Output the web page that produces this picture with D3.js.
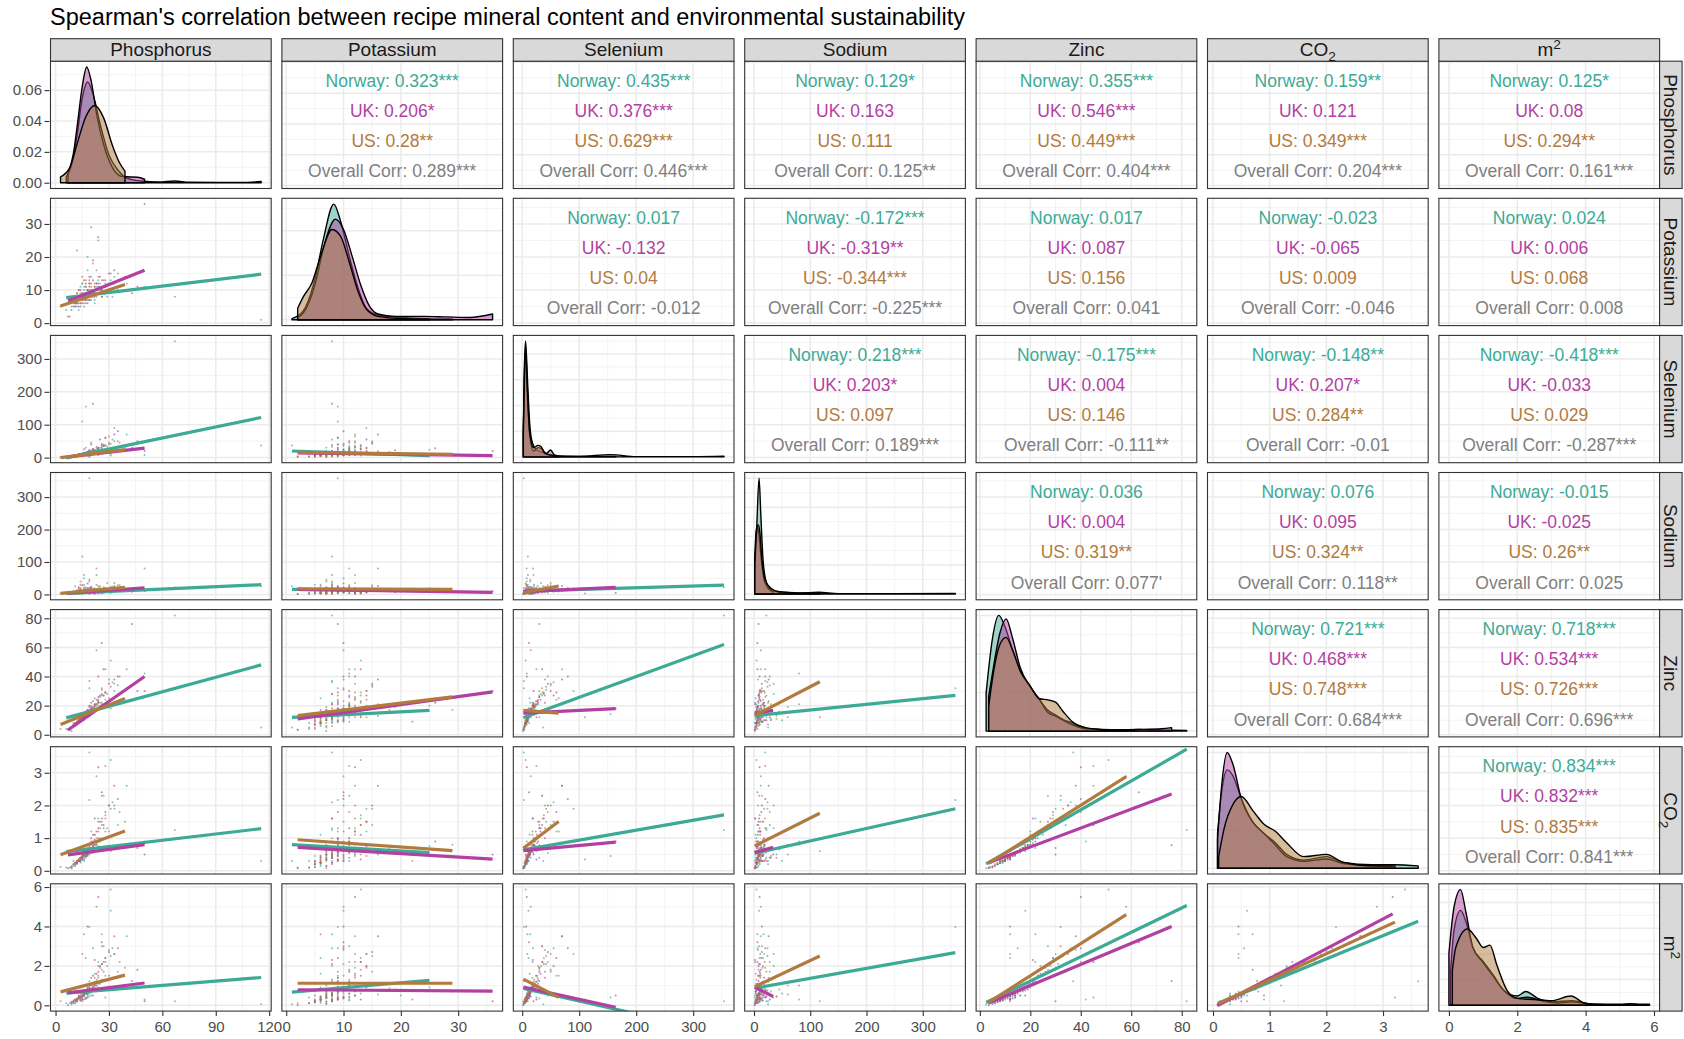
<!DOCTYPE html>
<html>
<head>
<meta charset="utf-8">
<script src="https://cdn.jsdelivr.net/npm/d3@7"></script>
<style>
  body { margin: 0; background: #fff; }
  svg { display: block; font-family: "Liberation Sans", Arial, sans-serif; }
</style>
</head>
<body>
<svg id="chart" width="1684" height="1039"></svg>
<script>

var title = "Spearman's correlation between recipe mineral content and environmental sustainability";

var vars = ['Phosphorus', 'Potassium', 'Selenium', 'Sodium', 'Zinc', 'CO2', 'm2'];
var countries = ['Norway', 'UK', 'US'];
var countryColors = ['#3DAA96', '#B23FA2', '#B27A3E'];
var overallColor = '#7F7F7F';

var varBreaks = [
  [0, 30, 60, 90, 120],
  [0, 10, 20, 30],
  [0, 100, 200, 300],
  [0, 100, 200, 300],
  [0, 20, 40, 60, 80],
  [0, 1, 2, 3],
  [0, 2, 4, 6]
];

// recipe rows: [Phosphorus, Potassium, Selenium, Sodium, Zinc, CO2, m2]
var norwayRecipes = [
  [115.5, 1, 37, 25, 5, 0.3, 0.05], [67, 8, 354, 22, 82, 1.25, 0.2], [19, 9, 3, 358, 32, 2.17, 3.97],
  [31, 13, 6, 4.5, 51, 3.39, 5.87], [19, 8, 3, 20, 37, 3.62, 1.22], [12, 6, 5, 4, 8, 0.25, 0.3],
  [15, 7, 9, 7, 10, 0.35, 0.4], [18, 8, 12, 9, 14, 0.5, 0.6], [22, 9, 15, 12, 18, 0.7, 0.9],
  [9, 5, 4, 3, 5, 0.12, 0.15], [25, 10, 22, 6, 20, 0.9, 1.1], [14, 11, 7, 15, 9, 0.3, 0.25],
  [17, 7, 30, 8, 12, 0.4, 0.35], [20, 12, 45, 5, 16, 0.55, 0.5], [28, 9, 60, 10, 24, 1.2, 1.5],
  [11, 6, 8, 25, 7, 0.2, 0.2], [16, 5, 10, 30, 11, 0.45, 0.7], [24, 13, 18, 2, 22, 1.6, 2.2],
  [13, 8, 6, 11, 10, 0.3, 0.3], [21, 10, 25, 14, 15, 0.6, 0.8], [33, 14, 90, 18, 30, 1.9, 2.6],
  [6, 4, 3, 6, 4, 0.1, 0.1], [19, 7, 14, 40, 13, 0.5, 0.45], [27, 11, 35, 9, 27, 2.3, 3.0],
  [15, 9, 110, 3, 12, 0.35, 0.3], [23, 12, 20, 60, 19, 0.8, 1.0], [10, 6, 5, 8, 6, 0.15, 0.12],
  [18, 16, 11, 13, 13, 0.5, 0.55], [30, 10, 40, 7, 38, 2.0, 2.8], [14, 8, 9, 5, 9, 0.25, 0.35],
  [20, 7, 16, 21, 17, 0.65, 0.75], [26, 11, 28, 4, 21, 1.0, 1.3], [12, 5, 7, 10, 7, 0.2, 0.18],
  [17, 9, 155, 16, 14, 0.45, 0.4], [35, 15, 50, 28, 34, 1.4, 1.7], [22, 6, 13, 3, 25, 1.1, 1.6],
  [16, 10, 8, 50, 10, 0.3, 0.6], [40, 12, 70, 12, 45, 2.6, 3.5], [9, 7, 2, 2, 2.5, 0.08, 0.05],
  [24, 25, 24, 19, 20, 0.75, 0.9], [13, 4, 12, 1.3, 8, 0.3, 0.4], [29, 8, 33, 35, 28, 1.3, 2.0],
  [18, 20, 10, 9, 16, 0.6, 0.5], [50, 11, 8, 80, 42, 0.9, 0.3], [21, 9, 19, 6, 15, 0.55, 2.9],
  [31, 10, 11, 9, 18, 0.6, 4.8], [26, 8, 14, 17, 22, 0.7, 3.6],
  [14, 7, 11, 6, 11, 0.4, 0.5], [16, 8, 13, 9, 12, 0.45, 0.55], [19, 9, 17, 11, 15, 0.6, 0.7],
  [21, 10, 21, 13, 18, 0.75, 0.95], [23, 11, 26, 15, 21, 0.85, 1.2], [12, 6, 8, 5, 9, 0.25, 0.3],
  [17, 7, 12, 7, 13, 0.5, 0.6], [20, 8, 14, 10, 14, 0.55, 0.65], [15, 9, 9, 12, 10, 0.35, 0.4],
  [18, 10, 16, 8, 16, 0.65, 0.85], [25, 12, 30, 20, 26, 1.3, 1.9], [11, 5, 6, 4, 7, 0.2, 0.25],
  [13, 6, 10, 14, 9, 0.3, 0.35], [22, 7, 20, 18, 19, 0.8, 1.0], [28, 13, 38, 10, 29, 1.7, 2.4],
  [16, 11, 15, 22, 12, 0.4, 0.45], [19, 12, 23, 5, 17, 0.7, 0.8], [14, 8, 9, 3, 11, 0.4, 0.6],
  [24, 9, 27, 26, 23, 1.0, 1.4], [17, 6, 11, 16, 12, 0.45, 2.4], [20, 14, 18, 7, 20, 1.2, 1.0],
  [10, 7, 7, 9, 8, 0.3, 0.2], [26, 10, 42, 11, 31, 1.5, 2.1], [15, 12, 13, 2, 14, 0.5, 0.5],
  [32, 8, 55, 24, 36, 2.1, 2.9]
];

var ukRecipes = [
  [50, 36, 20, 10, 30, 0.5, 0.2], [21, 8, 164, 5, 18, 0.9, 0.5], [18, 10, 6, 34, 14, 0.5, 0.4],
  [43, 9, 30, 8, 76, 0.78, 1.23], [24, 12, 8, 10, 40, 3.17, 5.5], [26, 10, 12, 6, 63, 2.4, 3.2],
  [7, 2, 2, 1.3, 3.5, 0.08, 0], [12, 6, 5, 4, 8, 0.25, 0.3], [15, 8, 9, 7, 11, 0.4, 0.5],
  [17, 9, 12, 9, 13, 0.45, 0.35], [19, 7, 15, 3, 16, 0.6, 0.7], [22, 11, 20, 12, 20, 0.8, 1.0],
  [14, 5, 7, 15, 9, 0.3, 0.25], [16, 13, 25, 6, 12, 0.35, 0.3], [20, 9, 40, 18, 22, 1.0, 1.4],
  [25, 14, 55, 8, 27, 1.5, 2.0], [11, 7, 4, 2.5, 6, 0.15, 0.1], [13, 10, 10, 22, 10, 0.3, 0.45],
  [18, 6, 18, 5, 17, 0.7, 0.9], [23, 12, 32, 11, 24, 1.2, 1.6], [30, 15, 45, 14, 35, 2.0, 2.7],
  [15, 8, 8, 28, 12, 0.4, 0.3], [9, 4, 3, 4, 5, 0.1, 0.12], [17, 11, 14, 9, 14, 0.55, 0.6],
  [21, 19, 22, 7, 19, 0.75, 0.8], [28, 9, 60, 13, 29, 1.8, 2.4], [12, 8, 6, 6, 8, 0.25, 0.2],
  [16, 7, 11, 17, 13, 0.5, 0.55], [19, 12, 16, 3, 15, 0.6, 0.7], [35, 10, 80, 20, 40, 2.2, 2.9],
  [14, 6, 9, 10, 11, 0.35, 0.4], [24, 26, 28, 8, 22, 0.9, 1.1], [20, 9, 13, 24, 18, 0.65, 0.75],
  [46, 11, 50, 12, 30, 0.7, 1.8], [10, 5, 5, 5, 7, 0.2, 0.15], [27, 13, 35, 6, 45, 1.4, 2.2],
  [18, 10, 7, 14, 12, 0.45, 4.0], [22, 8, 19, 2, 21, 1.6, 2.3],
  [13, 7, 8, 5, 10, 0.35, 0.4], [16, 8, 12, 8, 13, 0.5, 0.55], [18, 9, 14, 11, 15, 0.55, 0.6],
  [20, 10, 18, 13, 18, 0.7, 0.85], [15, 6, 10, 6, 12, 0.4, 0.45], [17, 12, 16, 4, 16, 0.6, 0.75],
  [22, 9, 24, 16, 21, 0.95, 1.2], [12, 9, 6, 10, 9, 0.3, 0.3], [19, 11, 21, 19, 20, 0.8, 1.0],
  [26, 8, 38, 9, 28, 1.6, 2.1], [14, 10, 9, 12, 11, 0.4, 0.35], [18, 7, 17, 20, 17, 0.65, 0.8],
  [21, 13, 26, 7, 23, 1.1, 1.5], [11, 6, 7, 3, 8, 0.25, 0.25], [16, 9, 13, 15, 14, 0.5, 0.5],
  [24, 11, 30, 10, 26, 1.3, 1.7], [33, 16, 70, 26, 38, 2.6, 3.5], [15, 8, 11, 9, 13, 0.45, 0.6],
  [19, 14, 20, 6, 19, 0.75, 0.9], [13, 5, 8, 18, 10, 0.3, 0.5]
];

var usRecipes = [
  [23, 10, 15, 12, 58, 2.89, 5.0], [28, 11, 25, 20, 45, 3.21, 0.4], [15, 8, 10, 117, 12, 0.6, 0.2],
  [30, 12, 64, 9, 25, 1.2, 1.5], [2.8, 5, 2, 3, 4, 0.12, 0.2], [39, 14, 30, 15, 30, 1.5, 1.9],
  [20, 29, 12, 10, 17, 0.8, 0.7], [8, 2, 4, 1.3, 3.5, 0.1, 0.1], [12, 6, 6, 6, 8, 0.3, 0.35],
  [15, 7, 9, 9, 11, 0.45, 0.5], [18, 9, 12, 14, 14, 0.55, 0.65], [21, 10, 16, 18, 18, 0.75, 0.9],
  [25, 11, 20, 25, 22, 1.0, 1.2], [10, 8, 5, 5, 6, 0.2, 0.25], [14, 6, 7, 30, 10, 0.4, 0.45],
  [17, 13, 11, 8, 13, 0.5, 0.6], [19, 7, 14, 45, 16, 0.65, 0.8], [22, 12, 18, 11, 20, 1.1, 1.4],
  [27, 9, 40, 22, 27, 1.3, 1.7], [13, 10, 8, 7, 9, 0.35, 0.4], [16, 8, 10, 60, 12, 0.5, 0.55],
  [20, 11, 22, 4, 19, 0.9, 1.1], [24, 14, 28, 16, 24, 1.5, 2.0], [11, 5, 4, 10, 7, 0.25, 0.3],
  [33, 12, 50, 35, 35, 2.0, 2.6], [18, 9, 13, 12, 15, 0.6, 0.7], [9, 7, 3, 2, 5, 0.15, 0.18],
  [23, 16, 19, 80, 21, 0.8, 1.0], [16, 6, 9, 6, 12, 0.45, 3.6], [26, 10, 35, 14, 32, 2.3, 3.0],
  [14, 9, 6, 20, 10, 0.35, 0.4], [21, 18, 17, 9, 17, 0.7, 0.85], [36, 11, 45, 28, 40, 1.8, 2.2],
  [19, 8, 12, 3, 14, 0.55, 0.6], [12, 22, 7, 13, 9, 0.3, 0.3],
  [13, 7, 7, 8, 10, 0.35, 0.4], [16, 8, 10, 11, 13, 0.5, 0.55], [18, 10, 13, 15, 15, 0.6, 0.7],
  [20, 9, 15, 13, 17, 0.7, 0.8], [22, 11, 19, 17, 20, 0.9, 1.1], [15, 12, 9, 10, 12, 0.45, 0.5],
  [17, 7, 11, 21, 14, 0.55, 0.65], [24, 10, 24, 12, 23, 1.2, 1.5], [11, 6, 5, 7, 8, 0.25, 0.3],
  [19, 13, 14, 9, 16, 0.65, 0.75], [28, 12, 36, 19, 29, 1.6, 2.2], [14, 8, 8, 40, 11, 0.4, 0.45],
  [21, 9, 17, 6, 18, 0.8, 0.95], [17, 11, 12, 14, 14, 0.55, 0.6], [31, 15, 42, 24, 33, 1.9, 2.5],
  [12, 9, 6, 5, 9, 0.3, 0.3], [23, 8, 21, 30, 21, 1.0, 1.3], [15, 14, 9, 11, 12, 0.45, 2.6],
  [19, 10, 16, 16, 17, 0.7, 0.9], [26, 13, 30, 8, 27, 1.4, 1.8]
];

// lm fit values at each country's min and max x: [row, col, Norway y0, y1, UK y0, y1, US y0, y1]
var fitEnds = [
  [1, 0, 7.7, 14.8, 6.7, 16, 5.2, 11.7],
  [2, 0, -1, 122, 2, 29, 0, 24],
  [3, 0, 3, 30, 4, 20, 3, 22],
  [4, 0, 11.6, 48, 3.3, 40, 7, 25],
  [5, 0, 0.59, 1.29, 0.49, 0.8, 0.49, 1.22],
  [6, 0, 0.62, 1.41, 0.63, 1.13, 0.68, 1.53],
  [2, 1, 20, 6, 14, 6, 16, 10],
  [3, 1, 15.7, 11.4, 15.7, 6.4, 17.6, 15.7],
  [4, 1, 12, 16.7, 10.9, 29.4, 13.2, 26],
  [5, 1, 0.8, 0.56, 0.72, 0.36, 0.95, 0.62],
  [6, 1, 0.67, 1.27, 0.79, 0.72, 1.12, 1.12],
  [3, 2, 10.5, 29, 8.4, 22, 5.3, 26],
  [4, 2, 11.6, 62, 14.8, 17.9, 16.7, 14.8],
  [5, 2, 0.64, 1.71, 0.62, 0.88, 0.69, 1.51],
  [6, 2, 0.85, -1.43, 0.92, -0.1, 1.33, 0.4],
  [4, 3, 13.2, 27.1, 14.8, 16.7, 13.2, 36.4],
  [5, 3, 0.54, 1.9, 0.56, 0.72, 0.76, 1.76],
  [6, 3, 0.87, 2.67, 0.92, 0.45, 0.95, 2.5],
  [5, 4, 0.21, 3.72, 0.25, 2.35, 0.23, 2.88],
  [6, 4, 0.15, 5.06, 0.12, 4.0, 0.15, 4.6],
  [6, 5, 0.09, 4.26, -0.02, 4.64, 0.09, 4.22]
];

// [row, col, Norway, UK, US, overall]
var corrText = [
  [0, 1, '0.323***', '0.206*', '0.28**', '0.289***'],
  [0, 2, '0.435***', '0.376***', '0.629***', '0.446***'],
  [0, 3, '0.129*', '0.163', '0.111', '0.125**'],
  [0, 4, '0.355***', '0.546***', '0.449***', '0.404***'],
  [0, 5, '0.159**', '0.121', '0.349***', '0.204***'],
  [0, 6, '0.125*', '0.08', '0.294**', '0.161***'],
  [1, 2, '0.017', '-0.132', '0.04', '-0.012'],
  [1, 3, '-0.172***', '-0.319**', '-0.344***', '-0.225***'],
  [1, 4, '0.017', '0.087', '0.156', '0.041'],
  [1, 5, '-0.023', '-0.065', '0.009', '-0.046'],
  [1, 6, '0.024', '0.006', '0.068', '0.008'],
  [2, 3, '0.218***', '0.203*', '0.097', '0.189***'],
  [2, 4, '-0.175***', '0.004', '0.146', '-0.111**'],
  [2, 5, '-0.148**', '0.207*', '0.284**', '-0.01'],
  [2, 6, '-0.418***', '-0.033', '0.029', '-0.287***'],
  [3, 4, '0.036', '0.004', '0.319**', "0.077'"],
  [3, 5, '0.076', '0.095', '0.324**', '0.118**'],
  [3, 6, '-0.015', '-0.025', '0.26**', '0.025'],
  [4, 5, '0.721***', '0.468***', '0.748***', '0.684***'],
  [4, 6, '0.718***', '0.534***', '0.726***', '0.696***'],
  [5, 6, '0.834***', '0.832***', '0.835***', '0.841***']
];

// density curves, height relative to the panel's tallest curve
var densityPeak = [0.075, 0.13, 0.09, 0.08, 0.06, 1.5, 0.9];

var densNorway = [
  [[6,0.05],[9,0.15],[12,0.4],[15,0.73],[18,0.87],[21,0.77],[25,0.51],[30,0.24],[35,0.11],[40,0.04],[48,0.015],[58,0.006],[67,0.015],[75,0.004],[90,0.002],[108,0.002],[115.5,0.01]],
  [[1,0.01],[3,0.08],[5,0.35],[6.5,0.7],[8.3,1.0],[9.5,0.85],[11,0.55],[12.5,0.28],[14,0.1],[16,0.04],[20,0.02],[25,0.01]],
  [[2,0.2],[4,0.8],[6,1.0],[9,0.7],[13,0.3],[18,0.12],[25,0.06],[30,0.05],[40,0.03],[55,0.01],[100,0.005],[155,0.02],[200,0.002],[300,0.002],[354,0.006]],
  [[1.3,0.2],[5,0.6],[9,1.0],[12,0.7],[16,0.3],[22,0.1],[30,0.04],[45,0.015],[80,0.008],[115,0.015],[150,0.003],[250,0.002],[358,0.004]],
  [[2.5,0.33],[5,0.8],[7.5,1.0],[10,0.9],[13,0.7],[16,0.52],[19.7,0.39],[23.7,0.27],[27,0.18],[30,0.14],[33,0.1],[36.7,0.07],[42,0.02],[50,0.01],[63,0.015],[70,0.01],[82,0.005]],
  [[0.08,0.3],[0.15,0.65],[0.25,0.85],[0.35,0.8],[0.5,0.6],[0.7,0.4],[0.9,0.3],[1.1,0.22],[1.3,0.12],[1.6,0.07],[2.0,0.1],[2.3,0.05],[2.8,0.03],[3.2,0.03],[3.62,0.02]],
  [[0.05,0.3],[0.15,0.65],[0.34,0.82],[0.5,0.72],[0.7,0.5],[1.0,0.38],[1.3,0.26],[1.6,0.13],[2.0,0.08],[2.25,0.12],[2.6,0.06],[3.0,0.03],[3.6,0.04],[4.2,0.01],[5.0,0.01],[5.87,0.01]]
];

var densUK = [
  [[7,0.08],[10,0.25],[12,0.47],[15,0.83],[17.5,1.0],[20,0.88],[23,0.6],[27,0.33],[32,0.13],[37,0.055],[42,0.05],[46,0.047],[50,0.03]],
  [[2,0.02],[3,0.06],[5,0.3],[6.5,0.62],[8.6,0.87],[10,0.78],[11.5,0.55],[13,0.3],[14.5,0.12],[16,0.05],[19,0.03],[24,0.03],[28,0.025],[32,0.02],[36,0.05]],
  [[2,0.25],[4,0.75],[6,0.9],[9,0.55],[13,0.2],[20,0.05],[28,0.08],[34,0.07],[42,0.03],[50,0.06],[56,0.02],[70,0.003],[110,0.003],[164,0.004]],
  [[1.3,0.3],[4,0.55],[6,0.58],[9,0.5],[13,0.3],[18,0.12],[25,0.05],[34,0.02]],
  [[3.5,0.3],[5,0.5],[8,0.85],[10.4,0.97],[13,0.8],[16,0.55],[19.7,0.39],[23.7,0.27],[27,0.16],[30,0.13],[36,0.06],[42,0.02],[55,0.01],[65,0.015],[72,0.02],[76,0.03]],
  [[0.08,0.25],[0.15,0.7],[0.25,1.0],[0.35,0.9],[0.5,0.6],[0.7,0.4],[0.9,0.3],[1.1,0.2],[1.3,0.1],[1.6,0.06],[2.0,0.08],[2.3,0.04],[2.8,0.02],[3.17,0.01]],
  [[0,0.45],[0.15,0.85],[0.34,1.0],[0.5,0.8],[0.7,0.5],[1.0,0.37],[1.3,0.25],[1.6,0.13],[2.0,0.06],[2.3,0.07],[2.7,0.04],[3.2,0.02],[3.6,0.03],[4.2,0.01],[5.0,0.005],[5.3,0.015],[5.5,0.01]]
];

var densUS = [
  [[2.8,0.05],[8,0.13],[12,0.33],[17,0.57],[22,0.667],[27,0.56],[32,0.32],[36,0.17],[39,0.1]],
  [[2,0.1],[3,0.2],[4.5,0.32],[6,0.55],[8,0.78],[9.5,0.72],[11,0.5],[12.5,0.25],[14,0.09],[16,0.03],[20,0.01],[29,0.005]],
  [[2,0.2],[4,0.7],[6,0.95],[9,0.6],[13,0.22],[20,0.08],[28,0.1],[33,0.09],[40,0.03],[64,0.005]],
  [[1.3,0.25],[4,0.5],[7,0.6],[10,0.55],[14,0.3],[20,0.12],[30,0.05],[45,0.02],[80,0.01],[117,0.01]],
  [[3.5,0.21],[5,0.45],[8,0.75],[10.4,0.81],[13,0.7],[16,0.52],[19.7,0.4],[23.7,0.28],[27,0.27],[30,0.25],[33,0.17],[36.7,0.08],[42,0.03],[50,0.01],[58,0.005]],
  [[0.1,0.1],[0.2,0.35],[0.35,0.55],[0.5,0.62],[0.7,0.5],[0.9,0.38],[1.1,0.32],[1.3,0.22],[1.6,0.1],[2.0,0.12],[2.3,0.05],[2.8,0.02],[3.21,0.02]],
  [[0.1,0.3],[0.2,0.5],[0.54,0.66],[0.8,0.58],[1.0,0.5],[1.2,0.52],[1.4,0.35],[1.7,0.13],[2.0,0.06],[2.5,0.05],[3.0,0.04],[3.57,0.08],[4.0,0.015],[4.6,0.005],[5.0,0.005]]
];

// layout
var left0 = 50.5, colStep = 231.4, panelW = 220.7;
var top0 = 61.2, rowStep = 137.1, panelH = 127.3;
var stripH = 22.5;
var nVar = vars.length;

var svg = d3.select('#chart');

var recipesBy = [norwayRecipes, ukRecipes, usRecipes];
var densBy = [densNorway, densUK, densUS];
var allRecipes = norwayRecipes.concat(ukRecipes, usRecipes);

var expand = (ext) => {
  var pad = (ext[1] - ext[0]) * 0.05;
  return [ext[0] - pad, ext[1] + pad];
};

var xScales = vars.map((v, i) => d3.scaleLinear()
  .domain(expand(d3.extent(allRecipes, d => d[i]))).range([0, panelW]));
var yScales = vars.map((v, i) => d3.scaleLinear()
  .domain(expand(d3.extent(allRecipes, d => d[i]))).range([panelH, 0]));
var densScales = densityPeak.map(p => d3.scaleLinear()
  .domain([-0.05 * p, 1.05 * p]).range([panelH, 0]));

var minorOf = (breaks, domain) => {
  var step = breaks[1] - breaks[0];
  var out = [];
  for (var k = -1; k < breaks.length; k++) {
    var m = breaks[0] + step * (k + 0.5);
    if (m >= domain[0] && m <= domain[1]) out.push(m);
  }
  return out;
};

svg.append('defs').append('clipPath').attr('id', 'panelClip')
  .append('rect').attr('width', panelW).attr('height', panelH);

svg.append('text')
  .attr('x', 50).attr('y', 25)
  .attr('font-size', 23.5)
  .attr('fill', '#000')
  .text(title);

var addVarLabel = (sel, name) => {
  if (name === 'CO2') {
    sel.text('CO');
    sel.append('tspan').attr('dy', 5).attr('font-size', '0.72em').text('2');
  } else if (name === 'm2') {
    sel.text('m');
    sel.append('tspan').attr('dy', -7).attr('font-size', '0.72em').text('2');
  } else {
    sel.text(name);
  }
};

var drawGrid = (g, xs, xb, ys, yb) => {
  var xd = xs.domain(), yd = ys.domain();
  var inX = xb.filter(b => b >= xd[0] && b <= xd[1]);
  var inY = yb.filter(b => b >= yd[0] && b <= yd[1]);
  g.selectAll('line.vminor').data(minorOf(xb, xd)).enter().append('line')
    .attr('x1', d => xs(d)).attr('x2', d => xs(d)).attr('y1', 0).attr('y2', panelH)
    .attr('stroke', '#F0F0F0').attr('stroke-width', 0.8);
  g.selectAll('line.hminor').data(minorOf(yb, yd)).enter().append('line')
    .attr('y1', d => ys(d)).attr('y2', d => ys(d)).attr('x1', 0).attr('x2', panelW)
    .attr('stroke', '#F0F0F0').attr('stroke-width', 0.8);
  g.selectAll('line.vmajor').data(inX).enter().append('line')
    .attr('x1', d => xs(d)).attr('x2', d => xs(d)).attr('y1', 0).attr('y2', panelH)
    .attr('stroke', '#EBEBEB').attr('stroke-width', 1.5);
  g.selectAll('line.hmajor').data(inY).enter().append('line')
    .attr('y1', d => ys(d)).attr('y2', d => ys(d)).attr('x1', 0).attr('x2', panelW)
    .attr('stroke', '#EBEBEB').attr('stroke-width', 1.5);
};

for (var r = 0; r < nVar; r++) {
  for (var c = 0; c < nVar; c++) {
    var px = left0 + c * colStep;
    var py = top0 + r * rowStep;
    var g = svg.append('g').attr('transform', 'translate(' + px + ',' + py + ')');
    g.append('rect').attr('width', panelW).attr('height', panelH).attr('fill', '#fff');

    var xs = xScales[c];
    var inner;

    if (r === c) {
      // diagonal: densities per country
      var ds = densScales[r];
      drawGrid(g, xs, varBreaks[c], ds, ds.ticks(4));
      inner = g.append('g').attr('clip-path', 'url(#panelClip)');
      var area = d3.area()
        .x(d => xs(d[0]))
        .y0(ds(0))
        .y1(d => ds(d[1] * densityPeak[r]))
        .curve(d3.curveMonotoneX);
      densBy.forEach((dens, k) => {
        inner.append('path')
          .attr('d', area(dens[r]))
          .attr('fill', countryColors[k])
          .attr('fill-opacity', 0.5)
          .attr('stroke', '#000')
          .attr('stroke-width', 1.4)
          .attr('stroke-linejoin', 'round');
      });
    } else if (r > c) {
      // lower: scatter + lm lines
      var ys = yScales[r];
      drawGrid(g, xs, varBreaks[c], ys, varBreaks[r]);
      inner = g.append('g').attr('clip-path', 'url(#panelClip)');
      recipesBy.forEach((rows, k) => {
        inner.selectAll('circle.c' + k).data(rows).enter().append('circle')
          .attr('cx', d => xs(d[c]))
          .attr('cy', d => ys(d[r]))
          .attr('r', 1)
          .attr('fill', countryColors[k])
          .attr('fill-opacity', 0.65);
      });
      var fit = fitEnds.find(f => f[0] === r && f[1] === c);
      recipesBy.forEach((rows, k) => {
        var ext = d3.extent(rows, d => d[c]);
        inner.append('line')
          .attr('x1', xs(ext[0])).attr('y1', ys(fit[2 + k * 2]))
          .attr('x2', xs(ext[1])).attr('y2', ys(fit[3 + k * 2]))
          .attr('stroke', countryColors[k])
          .attr('stroke-width', 3.2);
      });
    } else {
      // upper: correlation text
      drawGrid(g, xs, varBreaks[c], yScales[r], varBreaks[r]);
      var ct = corrText.find(f => f[0] === r && f[1] === c);
      var lines = [
        [countries[0] + ': ' + ct[2], countryColors[0]],
        [countries[1] + ': ' + ct[3], countryColors[1]],
        [countries[2] + ': ' + ct[4], countryColors[2]],
        ['Overall Corr: ' + ct[5], overallColor]
      ];
      lines.forEach((ln, k) => {
        g.append('text')
          .attr('x', panelW / 2)
          .attr('y', panelH * (0.151 + k * 0.237))
          .attr('dy', '0.36em')
          .attr('text-anchor', 'middle')
          .attr('font-size', 17.5)
          .attr('fill', ln[1])
          .text(ln[0]);
      });
    }

    g.append('rect').attr('width', panelW).attr('height', panelH)
      .attr('fill', 'none').attr('stroke', '#333333').attr('stroke-width', 1.1);

    // left axis
    if (c === 0) {
      var ay = r === 0 ? densScales[0] : yScales[r];
      var axL = d3.axisLeft(ay).tickSize(5).tickPadding(2.5);
      if (r === 0) axL.tickValues(ay.ticks(4)).tickFormat(d3.format('.2f'));
      else axL.tickValues(varBreaks[r]).tickFormat(d3.format('d'));
      var gl = svg.append('g')
        .attr('transform', 'translate(' + (px - 1) + ',' + py + ')')
        .call(axL);
      gl.select('.domain').remove();
      gl.selectAll('line').attr('stroke', '#333333').attr('stroke-width', 1.1);
      gl.selectAll('text').attr('font-size', 15).attr('fill', '#4D4D4D')
        .attr('font-family', '"Liberation Sans", Arial, sans-serif');
    }

    // bottom axis
    if (r === nVar - 1) {
      var axB = d3.axisBottom(xs).tickValues(varBreaks[c]).tickSize(5).tickPadding(5)
        .tickFormat(d3.format('d'));
      var gb = svg.append('g')
        .attr('transform', 'translate(' + px + ',' + (py + panelH) + ')')
        .call(axB);
      gb.select('.domain').remove();
      gb.selectAll('line').attr('stroke', '#333333').attr('stroke-width', 1.1);
      gb.selectAll('text').attr('font-size', 15).attr('fill', '#4D4D4D')
        .attr('font-family', '"Liberation Sans", Arial, sans-serif');
    }
  }
}

// top strips
vars.forEach((v, c) => {
  var sx = left0 + c * colStep;
  var sy = top0 - stripH;
  svg.append('rect').attr('x', sx).attr('y', sy).attr('width', panelW).attr('height', stripH)
    .attr('fill', '#D9D9D9').attr('stroke', '#333333').attr('stroke-width', 1.1);
  var t = svg.append('text')
    .attr('x', sx + panelW / 2).attr('y', sy + stripH / 2 + 6.5)
    .attr('text-anchor', 'middle').attr('font-size', 19).attr('fill', '#1A1A1A');
  addVarLabel(t, v);
});

// right strips
vars.forEach((v, r) => {
  var sx = left0 + (nVar - 1) * colStep + panelW;
  var sy = top0 + r * rowStep;
  svg.append('rect').attr('x', sx).attr('y', sy).attr('width', stripH).attr('height', panelH)
    .attr('fill', '#D9D9D9').attr('stroke', '#333333').attr('stroke-width', 1.1);
  var t = svg.append('text')
    .attr('transform', 'translate(' + (sx + stripH / 2) + ',' + (sy + panelH / 2) + ') rotate(90)')
    .attr('y', 6.5)
    .attr('text-anchor', 'middle').attr('font-size', 19).attr('fill', '#1A1A1A');
  addVarLabel(t, v);
});

</script>
</body>
</html>
